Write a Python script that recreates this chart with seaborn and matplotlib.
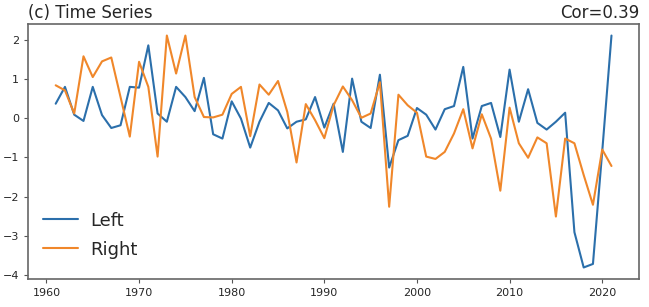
import numpy as np
import pandas as pd
import matplotlib
matplotlib.use("Agg")
import matplotlib.pyplot as plt
import seaborn as sns

years = list(range(1961, 2022))
left = [0.37, 0.80, 0.09, -0.07, 0.80, 0.08, -0.25, -0.18, 0.80, 0.78,
        1.86, 0.12, -0.09, 0.80, 0.54, 0.18, 1.03, -0.41, -0.52, 0.43,
        -0.01, -0.75, -0.09, 0.39, 0.20, -0.26, -0.09, -0.03, 0.54, -0.24,
        0.37, -0.86, 1.01, -0.09, -0.25, 1.11, -1.26, -0.56, -0.45, 0.26,
        0.09, -0.29, 0.23, 0.31, 1.31, -0.52, 0.31, 0.39, -0.48, 1.24,
        -0.09, 0.74, -0.12, -0.29, -0.09, 0.14, -2.91, -3.81, -3.72, -0.85,
        2.11]
right = [0.84, 0.71, 0.12, 1.58, 1.05, 1.45, 1.55, 0.54, -0.47, 1.44,
         0.80, -0.98, 2.11, 1.14, 2.11, 0.54, 0.03, 0.02, 0.09, 0.62,
         0.80, -0.46, 0.86, 0.60, 0.95, 0.16, -1.13, 0.36, -0.05, -0.51,
         0.33, 0.81, 0.46, 0.01, 0.12, 0.92, -2.26, 0.60, 0.33, 0.14,
         -0.98, -1.04, -0.86, -0.39, 0.23, -0.77, 0.10, -0.52, -1.85, 0.27,
         -0.64, -1.01, -0.49, -0.64, -2.51, -0.52, -0.64, -1.45, -2.21, -0.80,
         -1.22]
series_names = ["Left", "Right"]
title_left = "(c) Time Series"
title_right = "Cor=0.39"

df = pd.DataFrame({
    "year": years * 2,
    "value": left + right,
    "series": [series_names[0]] * len(years) + [series_names[1]] * len(years),
})

sns.set_style("ticks")
plt.rcParams['font.family'] = ['DejaVu Sans']

fig = plt.figure(figsize=(6.49, 3.07), dpi=100)
ax = fig.add_axes([0.043, 0.091, 0.942, 0.831])
sns.lineplot(data=df, x="year", y="value", hue="series",
             palette=["#2b6fab", "#f0872a"], linewidth=1.5, ax=ax)

ax.set_xlabel("")
ax.set_ylabel("")
ax.set_xticks([1960, 1970, 1980, 1990, 2000, 2010, 2020])
ax.set_yticks([-4, -3, -2, -1, 0, 1, 2])
ax.tick_params(labelsize=8, length=3, color="#555555")
for s in ax.spines.values():
    s.set_color("#666666")
    s.set_linewidth(1.2)
ax.set_title(title_left, loc="left", fontsize=12, pad=4)
ax.set_title(title_right, loc="right", fontsize=12, pad=4)
leg = ax.legend(loc="lower left", frameon=False, fontsize=13,
                handlelength=1.9, handletextpad=0.7, labelspacing=0.6,
                borderaxespad=0.45, bbox_to_anchor=(0.0, 0.02))

fig.savefig("out.png", dpi=100)
